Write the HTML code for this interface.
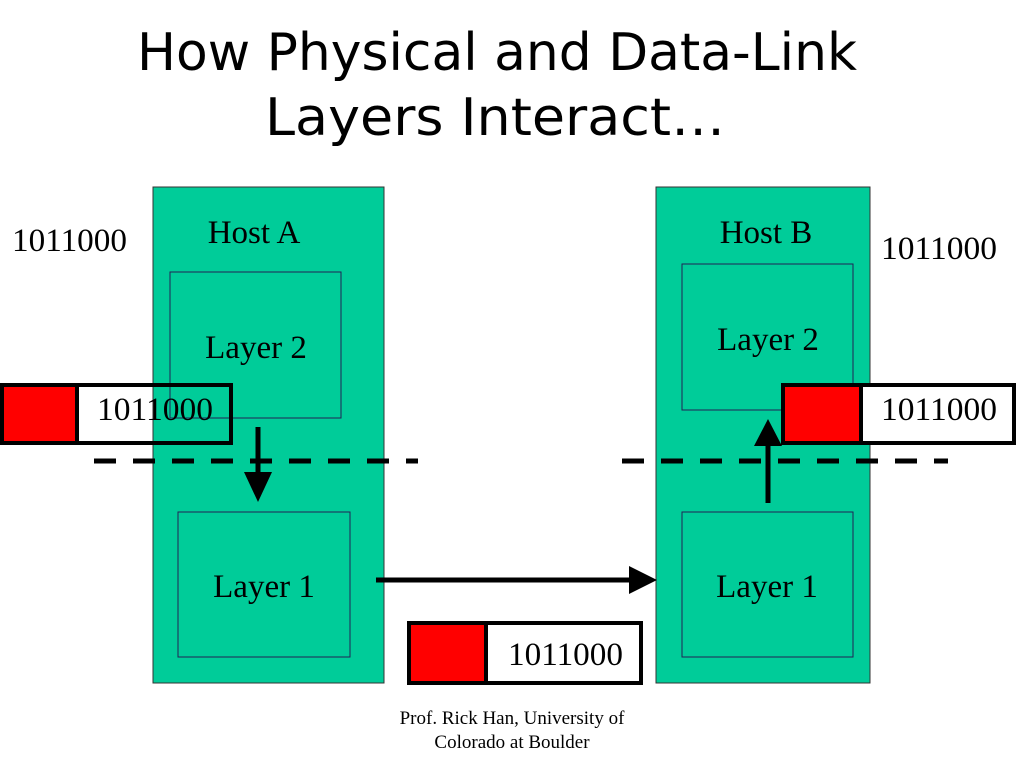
<!DOCTYPE html>
<html><head><meta charset="utf-8"><style>html,body{margin:0;padding:0;background:#fff}svg{display:block}</style></head>
<body>
<svg width="1024" height="768" viewBox="0 0 1024 768" xmlns="http://www.w3.org/2000/svg">
<g font-family="'DejaVu Sans', sans-serif" font-size="52" fill="#000">
<text x="137" y="70" textLength="720" lengthAdjust="spacingAndGlyphs">How Physical and Data-Link</text>
<text x="265" y="135" textLength="460" lengthAdjust="spacingAndGlyphs">Layers Interact…</text>
</g>
<rect x="153" y="187" width="231" height="496" fill="#00CC99" stroke="#333" stroke-width="1"/>
<rect x="656" y="187" width="214" height="496" fill="#00CC99" stroke="#333" stroke-width="1"/>
<rect x="170" y="272" width="171" height="146" fill="none" stroke="#225" stroke-width="1"/>
<rect x="178" y="512" width="172" height="145" fill="none" stroke="#225" stroke-width="1"/>
<rect x="682" y="264" width="171" height="146" fill="none" stroke="#225" stroke-width="1"/>
<rect x="682" y="512" width="171" height="145" fill="none" stroke="#225" stroke-width="1"/>
<line x1="94" y1="461" x2="418" y2="461" stroke="#000" stroke-width="5" stroke-dasharray="22,17"/>
<line x1="622" y1="461" x2="948" y2="461" stroke="#000" stroke-width="5" stroke-dasharray="22,17"/>
<rect x="2" y="385" width="229" height="58" fill="none" stroke="#000" stroke-width="4"/>
<rect x="2" y="385" width="75" height="58" fill="#FF0000" stroke="#000" stroke-width="4"/>
<rect x="861" y="385" width="153" height="58" fill="#fff" stroke="#000" stroke-width="4"/>
<rect x="783" y="385" width="78" height="58" fill="#FF0000" stroke="#000" stroke-width="4"/>
<rect x="409" y="623" width="232" height="60" fill="#fff" stroke="#000" stroke-width="4"/>
<rect x="409" y="623" width="77" height="60" fill="#FF0000" stroke="#000" stroke-width="4"/>
<line x1="258" y1="427" x2="258" y2="475" stroke="#000" stroke-width="5"/>
<polygon points="244,472 272,472 258,502" fill="#000"/>
<line x1="768" y1="503" x2="768" y2="445" stroke="#000" stroke-width="5"/>
<polygon points="754,446 782,446 768,419" fill="#000"/>
<line x1="376" y1="580" x2="632" y2="580" stroke="#000" stroke-width="5"/>
<polygon points="629,566 629,594 657,580" fill="#000"/>
<g font-family="'Liberation Serif', serif" font-size="33" fill="#000">
<text x="12" y="251" textLength="115" lengthAdjust="spacingAndGlyphs">1011000</text>
<text x="254" y="243" text-anchor="middle">Host A</text>
<text x="256" y="358" text-anchor="middle">Layer 2</text>
<text x="264" y="597" text-anchor="middle">Layer 1</text>
<text x="766" y="243" text-anchor="middle">Host B</text>
<text x="768" y="350" text-anchor="middle">Layer 2</text>
<text x="767" y="597" text-anchor="middle">Layer 1</text>
<text x="881" y="259" textLength="116" lengthAdjust="spacingAndGlyphs">1011000</text>
<text x="97" y="420" textLength="116" lengthAdjust="spacingAndGlyphs">1011000</text>
<text x="881" y="420" textLength="116" lengthAdjust="spacingAndGlyphs">1011000</text>
<text x="508" y="665" textLength="115" lengthAdjust="spacingAndGlyphs">1011000</text>
</g>
<g font-family="'Liberation Serif', serif" font-size="19" fill="#000" text-anchor="middle">
<text x="512" y="724">Prof. Rick Han, University of</text>
<text x="512" y="748">Colorado at Boulder</text>
</g>
</svg>
</body></html>
